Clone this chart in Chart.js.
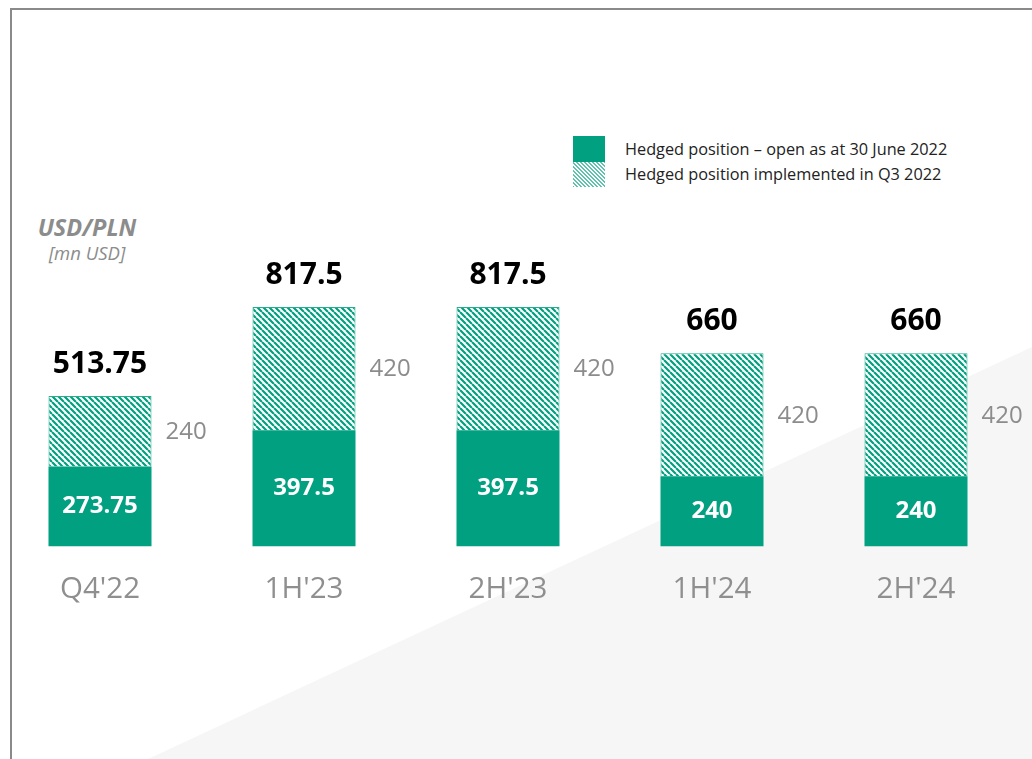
<!DOCTYPE html>
<html lang="en">
<head>
    <meta charset="UTF-8">
    <title>USD/PLN hedged positions</title>
    <script src="https://cdn.jsdelivr.net/npm/chart.js@4.4.1/dist/chart.umd.min.js"></script>
    <style>
        :root {
            --green: #00a080;
            --grey: #8c8c8c;
        }

        * {
            margin: 0;
            padding: 0;
            box-sizing: border-box;
        }

        body {
            width: 1032px;
            height: 759px;
            overflow: hidden;
            position: relative;
            background: #fff;
            font-family: 'Open Sans', sans-serif;
        }

        .frame {
            position: absolute;
            left: 10px;
            top: 8px;
            right: -10px;
            bottom: -10px;
            border-left: 2px solid #8a8a8a;
            border-top: 2px solid #8a8a8a;
        }

        .shade {
            position: absolute;
            inset: 0;
            background: #f6f6f6;
            clip-path: polygon(148px 759px, 1032px 347px, 1032px 759px);
        }

        .unit {
            position: absolute;
            left: 27px;
            top: 211px;
            width: 120px;
            text-align: center;
            color: var(--grey);
            font-style: italic;
        }

        .unit b {
            display: block;
            font-size: 23.5px;
            line-height: 32px;
        }

        .unit span {
            display: block;
            font-size: 18.5px;
            line-height: 20px;
        }

        .legend {
            position: absolute;
            left: 573px;
            top: 136px;
            font-size: 16.3px;
            color: #222;
        }

        .legend-item {
            display: flex;
            align-items: center;
            height: 25.5px;
        }

        .swatch {
            width: 32px;
            height: 25.5px;
            margin-right: 20px;
        }

        .swatch.solid { background: var(--green); }
        .swatch.hatch {
            background: repeating-linear-gradient(45deg, #5fc4ad 0 1.4px, #fff 1.4px 2.8px);
        }

        .chart-box {
            position: absolute;
            left: -2px;
            top: 0;
            width: 1040px;
            height: 759px;
        }
    </style>
</head>
<body>
    <div class="shade"></div>
    <div class="frame"></div>

    <div class="unit">
        <b>USD/PLN</b>
        <span>[mn USD]</span>
    </div>

    <div class="legend">
        <div class="legend-item"><div class="swatch solid"></div>Hedged position – open as at 30 June 2022</div>
        <div class="legend-item"><div class="swatch hatch"></div>Hedged position implemented in Q3 2022</div>
    </div>

    <div class="chart-box">
        <canvas id="hedgeChart"></canvas>
    </div>

    <script>
        const categories = ["Q4'22", "1H'23", "2H'23", "1H'24", "2H'24"];
        const openPosition = [273.75, 397.5, 397.5, 240, 240];
        const q3Implemented = [240, 420, 420, 420, 420];
        const totalLabels = ['513.75', '817.5', '817.5', '660', '660'];

        const GREEN = '#00a080';
        const GREY = '#8c8c8c';

        const ctx = document.getElementById('hedgeChart').getContext('2d');

        // diagonal stripes for the Q3 part of each bar
        function makeHatch(size, lineW) {
            const c = document.createElement('canvas');
            c.width = c.height = size;
            const x = c.getContext('2d');
            x.fillStyle = '#fff';
            x.fillRect(0, 0, size, size);
            x.strokeStyle = GREEN;
            x.lineWidth = lineW;
            x.beginPath();
            for (const o of [-size, 0, size]) {
                x.moveTo(o, 0);
                x.lineTo(o + size, size);
            }
            x.stroke();
            return ctx.createPattern(c, 'repeat');
        }

        // value labels: total above, Q3 part to the right, open part inside
        const barLabels = {
            id: 'barLabels',
            afterDatasetsDraw(chart) {
                const c = chart.ctx;
                const solid = chart.getDatasetMeta(0).data;
                const hatch = chart.getDatasetMeta(1).data;
                c.save();
                solid.forEach((bar, i) => {
                    const top = hatch[i];
                    c.textBaseline = 'middle';

                    c.textAlign = 'center';
                    c.fillStyle = '#fff';
                    c.font = 'bold 24px "Open Sans"';
                    c.fillText(String(openPosition[i]), bar.x, (bar.y + bar.base) / 2);

                    c.fillStyle = '#000';
                    c.font = 'bold 30px "Open Sans"';
                    c.fillText(totalLabels[i], top.x, top.y - 32);

                    c.textAlign = 'left';
                    c.fillStyle = GREY;
                    c.font = '24px "Open Sans"';
                    c.fillText(String(q3Implemented[i]), top.x + top.width / 2 + 14, (top.y + top.base) / 2 + 1);
                });
                c.restore();
            }
        };

        new Chart(ctx, {
            type: 'bar',
            data: {
                labels: categories,
                datasets: [{
                    label: 'Hedged position – open as at 30 June 2022',
                    data: openPosition,
                    backgroundColor: GREEN,
                    borderWidth: 0
                }, {
                    label: 'Hedged position implemented in Q3 2022',
                    data: q3Implemented,
                    backgroundColor: makeHatch(6, 2.2),
                    borderColor: '#2aad8e',
                    borderWidth: 1
                }]
            },
            options: {
                responsive: true,
                maintainAspectRatio: false,
                animation: false,
                layout: {
                    padding: { top: 195, bottom: 127, left: 0, right: 20 }
                },
                datasets: {
                    bar: { barPercentage: 1, categoryPercentage: 0.505 }
                },
                plugins: {
                    legend: { display: false },
                    tooltip: { enabled: false }
                },
                scales: {
                    x: {
                        stacked: true,
                        grid: { display: false, drawTicks: false },
                        border: { display: false },
                        ticks: {
                            color: '#8f8f8f',
                            padding: 25,
                            font: { family: 'Open Sans', size: 29.5 }
                        }
                    },
                    y: {
                        stacked: true,
                        display: false,
                        min: 0,
                        max: 1200
                    }
                }
            },
            plugins: [barLabels]
        });
    </script>
</body>
</html>
